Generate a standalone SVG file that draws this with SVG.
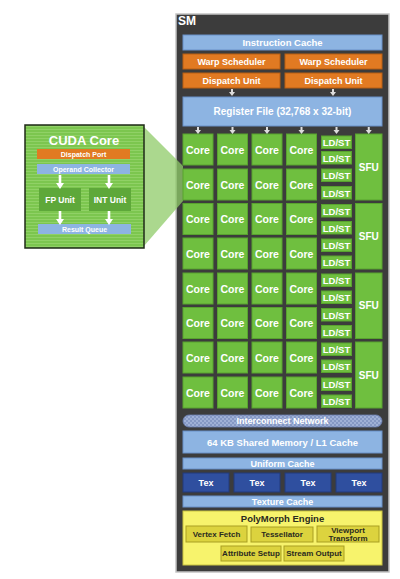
<svg xmlns="http://www.w3.org/2000/svg" xmlns:xlink="http://www.w3.org/1999/xlink" width="400" height="579" viewBox="0 0 400 579">
<style>
text{font-family:"Liberation Sans",Arial,sans-serif;font-weight:bold;text-anchor:middle;dominant-baseline:central}
.w{fill:#fff}
.d{fill:#2a2a20}
.core{fill:#6fbf3f;stroke:#58a32e;stroke-width:1}
.blue{fill:#8db4e2;stroke:#6890c8;stroke-width:1}
.orange{fill:#e17a22;stroke:#b85e12;stroke-width:1}
.tex{fill:#2f4f9f;stroke:#223a7a;stroke-width:1}
.ybox{fill:#dcd33e;stroke:#a99f22;stroke-width:1}
.arr{fill:#dddddd}
.iarr{fill:#ffffff}
</style>
<defs>
<pattern id="stripes" width="4" height="3" patternUnits="userSpaceOnUse">
<rect width="4" height="3" fill="#7cc64f"/>
<rect width="4" height="1" fill="#90d166"/>
</pattern>
<pattern id="hatch" width="4" height="4" patternUnits="userSpaceOnUse">
<rect width="4" height="4" fill="#8598c4"/>
<circle cx="1" cy="1" r="1" fill="#a8b8dc"/>
<circle cx="3" cy="3" r="1" fill="#a8b8dc"/>
</pattern>
<path id="sa" d="M-1,0 H1 V3 H3 L0,7 L-3,3 H-1 Z"/>
<path id="ia" d="M-1.3,0 H1.3 V8 H4 L0,14 L-4,8 H-1.3 Z"/>
</defs>
<rect width="400" height="579" fill="#ffffff"/>

<g id="sm-frame">
<rect x="176" y="14" width="213" height="558" fill="#3c3c3c" stroke="#c4c4c4" stroke-width="1.5"/>
<text x="187" y="21" class="w" style="font-size:12px">SM</text>
</g>

<g id="zoom-projection">
<polygon points="144,127 183,166 183,201 144,246" fill="#8fcb68" opacity="0.75"/>
</g>

<g id="instruction-cache">
<rect x="183" y="35" width="199" height="15" class="blue"/>
<text x="282.5" y="42.5" class="w" style="font-size:9.5px">Instruction Cache</text>
</g>
<g id="warp-scheduler-1">
<rect x="183" y="54" width="97" height="15" class="orange"/>
<text x="231.5" y="61.5" class="w" style="font-size:9px">Warp Scheduler</text>
</g>
<g id="warp-scheduler-2">
<rect x="285" y="54" width="97" height="15" class="orange"/>
<text x="333.5" y="61.5" class="w" style="font-size:9px">Warp Scheduler</text>
</g>
<g id="dispatch-unit-1">
<rect x="183" y="73" width="97" height="15" class="orange"/>
<text x="231.5" y="80.5" class="w" style="font-size:9px">Dispatch Unit</text>
</g>
<g id="dispatch-unit-2">
<rect x="285" y="73" width="97" height="15" class="orange"/>
<text x="333.5" y="80.5" class="w" style="font-size:9px">Dispatch Unit</text>
</g>
<g id="register-file">
<rect x="183" y="97" width="199" height="29" class="blue"/>
<text x="282.5" y="111.5" class="w" style="font-size:10px">Register File (32,768 x 32-bit)</text>
</g>

<g id="core-grid">
<g id="cores" style="font-size:10.5px">
<rect x="183" y="134" width="30" height="31" class="core"/><text x="198" y="149.5" class="w">Core</text>
<rect x="217.5" y="134" width="30" height="31" class="core"/><text x="232.5" y="149.5" class="w">Core</text>
<rect x="252" y="134" width="30" height="31" class="core"/><text x="267" y="149.5" class="w">Core</text>
<rect x="286.5" y="134" width="30" height="31" class="core"/><text x="301.5" y="149.5" class="w">Core</text>
<rect x="183" y="169" width="30" height="31" class="core"/><text x="198" y="184.5" class="w">Core</text>
<rect x="217.5" y="169" width="30" height="31" class="core"/><text x="232.5" y="184.5" class="w">Core</text>
<rect x="252" y="169" width="30" height="31" class="core"/><text x="267" y="184.5" class="w">Core</text>
<rect x="286.5" y="169" width="30" height="31" class="core"/><text x="301.5" y="184.5" class="w">Core</text>
<rect x="183" y="203.5" width="30" height="31" class="core"/><text x="198" y="219" class="w">Core</text>
<rect x="217.5" y="203.5" width="30" height="31" class="core"/><text x="232.5" y="219" class="w">Core</text>
<rect x="252" y="203.5" width="30" height="31" class="core"/><text x="267" y="219" class="w">Core</text>
<rect x="286.5" y="203.5" width="30" height="31" class="core"/><text x="301.5" y="219" class="w">Core</text>
<rect x="183" y="238" width="30" height="31" class="core"/><text x="198" y="253.5" class="w">Core</text>
<rect x="217.5" y="238" width="30" height="31" class="core"/><text x="232.5" y="253.5" class="w">Core</text>
<rect x="252" y="238" width="30" height="31" class="core"/><text x="267" y="253.5" class="w">Core</text>
<rect x="286.5" y="238" width="30" height="31" class="core"/><text x="301.5" y="253.5" class="w">Core</text>
<rect x="183" y="273" width="30" height="31" class="core"/><text x="198" y="288.5" class="w">Core</text>
<rect x="217.5" y="273" width="30" height="31" class="core"/><text x="232.5" y="288.5" class="w">Core</text>
<rect x="252" y="273" width="30" height="31" class="core"/><text x="267" y="288.5" class="w">Core</text>
<rect x="286.5" y="273" width="30" height="31" class="core"/><text x="301.5" y="288.5" class="w">Core</text>
<rect x="183" y="307.5" width="30" height="31" class="core"/><text x="198" y="323" class="w">Core</text>
<rect x="217.5" y="307.5" width="30" height="31" class="core"/><text x="232.5" y="323" class="w">Core</text>
<rect x="252" y="307.5" width="30" height="31" class="core"/><text x="267" y="323" class="w">Core</text>
<rect x="286.5" y="307.5" width="30" height="31" class="core"/><text x="301.5" y="323" class="w">Core</text>
<rect x="183" y="342" width="30" height="31" class="core"/><text x="198" y="357.5" class="w">Core</text>
<rect x="217.5" y="342" width="30" height="31" class="core"/><text x="232.5" y="357.5" class="w">Core</text>
<rect x="252" y="342" width="30" height="31" class="core"/><text x="267" y="357.5" class="w">Core</text>
<rect x="286.5" y="342" width="30" height="31" class="core"/><text x="301.5" y="357.5" class="w">Core</text>
<rect x="183" y="377" width="30" height="31" class="core"/><text x="198" y="392.5" class="w">Core</text>
<rect x="217.5" y="377" width="30" height="31" class="core"/><text x="232.5" y="392.5" class="w">Core</text>
<rect x="252" y="377" width="30" height="31" class="core"/><text x="267" y="392.5" class="w">Core</text>
<rect x="286.5" y="377" width="30" height="31" class="core"/><text x="301.5" y="392.5" class="w">Core</text>
</g>
<g id="ldst" style="font-size:9.5px">
<rect x="321.5" y="136" width="30" height="12.5" class="core"/><text x="336.5" y="142.5" class="w">LD/ST</text>
<rect x="321.5" y="151.5" width="30" height="12.5" class="core"/><text x="336.5" y="158" class="w">LD/ST</text>
<rect x="321.5" y="169" width="30" height="12.5" class="core"/><text x="336.5" y="175.5" class="w">LD/ST</text>
<rect x="321.5" y="186.5" width="30" height="12.5" class="core"/><text x="336.5" y="193" class="w">LD/ST</text>
<rect x="321.5" y="204.5" width="30" height="12.5" class="core"/><text x="336.5" y="211" class="w">LD/ST</text>
<rect x="321.5" y="221.5" width="30" height="12.5" class="core"/><text x="336.5" y="228" class="w">LD/ST</text>
<rect x="321.5" y="239" width="30" height="12.5" class="core"/><text x="336.5" y="245.5" class="w">LD/ST</text>
<rect x="321.5" y="256" width="30" height="12.5" class="core"/><text x="336.5" y="262.5" class="w">LD/ST</text>
<rect x="321.5" y="274" width="30" height="12.5" class="core"/><text x="336.5" y="280.5" class="w">LD/ST</text>
<rect x="321.5" y="291" width="30" height="12.5" class="core"/><text x="336.5" y="297.5" class="w">LD/ST</text>
<rect x="321.5" y="308.5" width="30" height="12.5" class="core"/><text x="336.5" y="315" class="w">LD/ST</text>
<rect x="321.5" y="325.5" width="30" height="12.5" class="core"/><text x="336.5" y="332" class="w">LD/ST</text>
<rect x="321.5" y="343" width="30" height="12.5" class="core"/><text x="336.5" y="349.5" class="w">LD/ST</text>
<rect x="321.5" y="360" width="30" height="12.5" class="core"/><text x="336.5" y="366.5" class="w">LD/ST</text>
<rect x="321.5" y="378" width="30" height="12.5" class="core"/><text x="336.5" y="384.5" class="w">LD/ST</text>
<rect x="321.5" y="395" width="30" height="12.5" class="core"/><text x="336.5" y="401.5" class="w">LD/ST</text>
</g>
<g id="sfu" style="font-size:10px">
<rect x="355.5" y="134" width="26.5" height="66" class="core"/><text x="368.75" y="167" class="w">SFU</text>
<rect x="355.5" y="203.5" width="26.5" height="65.5" class="core"/><text x="368.75" y="236" class="w">SFU</text>
<rect x="355.5" y="273" width="26.5" height="65.5" class="core"/><text x="368.75" y="305.5" class="w">SFU</text>
<rect x="355.5" y="342" width="26.5" height="66" class="core"/><text x="368.75" y="375" class="w">SFU</text>
</g>
</g>

<g id="interconnect-network">
<rect x="183" y="415" width="199" height="12" rx="6" fill="url(#hatch)" stroke="#6a7eb0" stroke-width="0.8"/>
<text x="282.5" y="421" class="w" style="font-size:9px">Interconnect Network</text>
</g>
<g id="shared-memory">
<rect x="183" y="431" width="199" height="22" class="blue"/>
<text x="282.5" y="442" class="w" style="font-size:9.5px">64 KB Shared Memory / L1 Cache</text>
</g>
<g id="uniform-cache">
<rect x="183" y="458" width="199" height="11" class="blue"/>
<text x="282.5" y="463.5" class="w" style="font-size:9px">Uniform Cache</text>
</g>
<g id="tex-1"><rect x="183" y="473" width="46" height="19" class="tex"/><text x="206" y="482.5" class="w" style="font-size:9px">Tex</text></g>
<g id="tex-2"><rect x="234" y="473" width="46" height="19" class="tex"/><text x="257" y="482.5" class="w" style="font-size:9px">Tex</text></g>
<g id="tex-3"><rect x="285" y="473" width="46" height="19" class="tex"/><text x="308" y="482.5" class="w" style="font-size:9px">Tex</text></g>
<g id="tex-4"><rect x="336" y="473" width="46" height="19" class="tex"/><text x="359" y="482.5" class="w" style="font-size:9px">Tex</text></g>
<g id="texture-cache">
<rect x="183" y="496" width="199" height="11" class="blue"/>
<text x="282.5" y="501.5" class="w" style="font-size:9px">Texture Cache</text>
</g>
<g id="polymorph-engine">
<rect x="183" y="511" width="199" height="54" fill="#f7f36c" stroke="#c9c340" stroke-width="1"/>
<text x="282.5" y="518" class="d" style="font-size:9.5px">PolyMorph Engine</text>
<g id="vertex-fetch"><rect x="186" y="526" width="61" height="16" class="ybox"/><text x="216.5" y="534" class="d" style="font-size:8px">Vertex Fetch</text></g>
<g id="tessellator"><rect x="251" y="527" width="62" height="15" class="ybox"/><text x="282" y="534.5" class="d" style="font-size:8px">Tessellator</text></g>
<g id="viewport-transform"><rect x="317" y="526" width="62" height="16" class="ybox"/><text x="348" y="530" class="d" style="font-size:8px">Viewport</text><text x="348" y="538" class="d" style="font-size:8px">Transform</text></g>
<g id="attribute-setup"><rect x="221" y="546" width="60" height="15" class="ybox"/><text x="251" y="553.5" class="d" style="font-size:8px">Attribute Setup</text></g>
<g id="stream-output"><rect x="284" y="546" width="60" height="15" class="ybox"/><text x="314" y="553.5" class="d" style="font-size:8px">Stream Output</text></g>
</g>

<g id="cuda-core-inset">
<rect x="25" y="125" width="119" height="123" fill="url(#stripes)" stroke="#1f2a18" stroke-width="1.5"/>
<text x="84" y="140" class="w" style="font-size:13px">CUDA Core</text>
<g id="dispatch-port"><rect x="37" y="149" width="93" height="10" fill="#e17a22"/><text x="83.5" y="154" class="w" style="font-size:7px">Dispatch Port</text></g>
<g id="operand-collector"><rect x="37" y="164" width="93" height="10" fill="#8db4e2"/><text x="83.5" y="169" class="w" style="font-size:7px">Operand Collector</text></g>
<g id="fp-unit"><rect x="39" y="188" width="42" height="23" fill="#5ea83a"/><text x="60" y="199.5" class="w" style="font-size:8.5px">FP Unit</text></g>
<g id="int-unit"><rect x="89" y="188" width="42" height="23" fill="#5ea83a"/><text x="110" y="199.5" class="w" style="font-size:8.5px">INT Unit</text></g>
<g id="result-queue"><rect x="38" y="224" width="93" height="10" fill="#8db4e2"/><text x="84.5" y="229" class="w" style="font-size:7px">Result Queue</text></g>
</g>

<g id="connectors">
<use xlink:href="#sa" x="232" y="89" class="arr"/>
<use xlink:href="#sa" x="333" y="89" class="arr"/>
<use xlink:href="#sa" x="198" y="127" class="arr"/>
<use xlink:href="#sa" x="232.5" y="127" class="arr"/>
<use xlink:href="#sa" x="267" y="127" class="arr"/>
<use xlink:href="#sa" x="301.5" y="127" class="arr"/>
<use xlink:href="#sa" x="336.5" y="127" class="arr"/>
<use xlink:href="#sa" x="368.75" y="127" class="arr"/>
<use xlink:href="#ia" x="60" y="175" class="iarr"/>
<use xlink:href="#ia" x="109" y="175" class="iarr"/>
<use xlink:href="#ia" x="60" y="211" class="iarr"/>
<use xlink:href="#ia" x="109" y="211" class="iarr"/>
</g>
</svg>
